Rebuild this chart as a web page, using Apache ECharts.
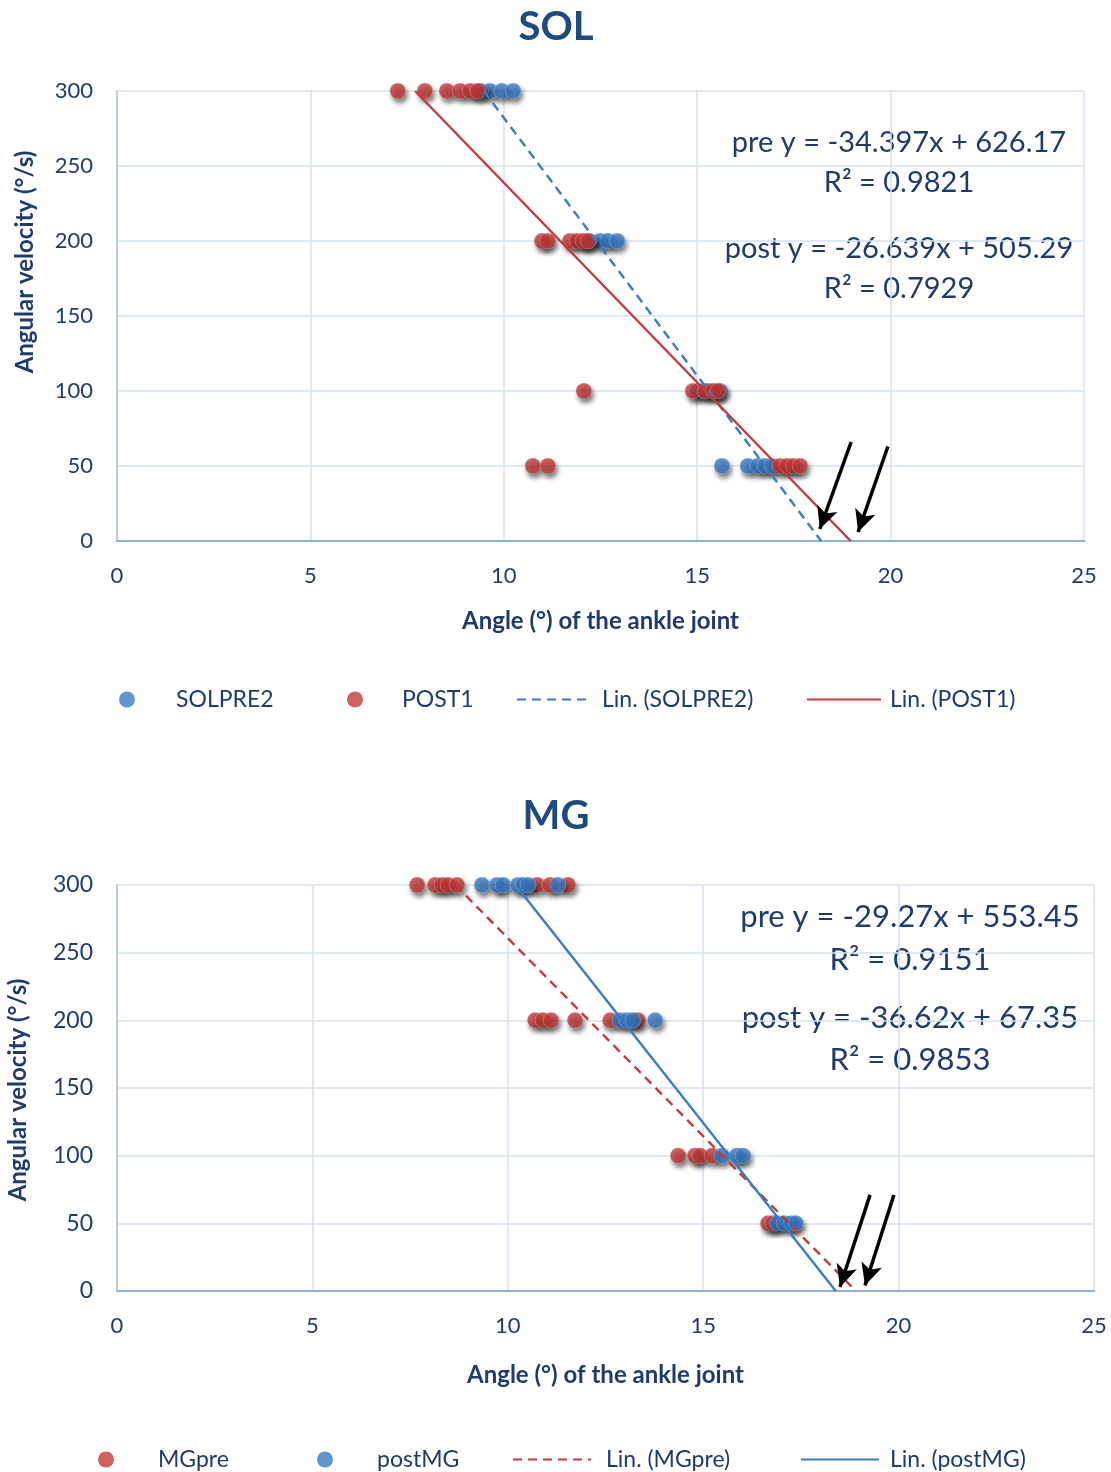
<!DOCTYPE html>
<html style="height: 100%">
<head>
  <meta charset="utf-8">
  <title>SOL / MG angular velocity vs ankle angle</title>
</head>
<body style="height: 100%; margin: 0; background: #fff">
<div id="container" style="width: 1111px; height: 1472px"></div>
<script src="https://cdn.jsdelivr.net/npm/echarts@6/dist/echarts.min.js"></script>
<script>
  // SOL: angle (deg), per velocity level
  let solPre = [
    [9.64, 300], [9.95, 300], [10.24, 300], [9.4, 300],
    [12.49, 200], [12.69, 200], [12.93, 200], [12.2, 200],
    [15.02, 100], [15.59, 100], [15.3, 100],
    [15.64, 50], [16.31, 50], [16.57, 50], [16.75, 50], [16.93, 50]
  ]
  let solPost = [
    [7.26, 300], [7.96, 300], [8.53, 300], [8.87, 300], [9.13, 300], [9.33, 300],
    [10.99, 200], [11.14, 200], [11.71, 200], [11.89, 200], [12.05, 200], [12.18, 200],
    [12.07, 100], [14.89, 100], [15.2, 100], [15.41, 100], [15.54, 100],
    [10.75, 50], [11.14, 50], [17.14, 50], [17.32, 50], [17.48, 50], [17.66, 50]
  ]
  // MG
  let mgPre = [
    [7.68, 300], [8.14, 300], [8.32, 300], [8.47, 300], [8.70, 300],
    [10.75, 300], [11.08, 300], [11.54, 300],
    [10.70, 200], [10.90, 200], [11.11, 200], [11.72, 200], [12.62, 200], [13.33, 200],
    [14.36, 100], [14.79, 100], [14.92, 100], [15.23, 100],
    [16.66, 50], [16.79, 50]
  ]
  let mgPost = [
    [9.34, 300], [9.72, 300], [9.88, 300], [10.26, 300], [10.39, 300], [10.52, 300], [11.28, 300],
    [12.87, 200], [13.05, 200], [13.20, 200], [13.77, 200],
    [15.48, 100], [15.86, 100], [16.02, 100],
    [16.89, 50], [17.07, 50], [17.25, 50], [17.37, 50]
  ]

  // trendline coefficients [slope, intercept]
  let solPreFit = [-34.397, 626.17]
  let solPostFit = [-26.639, 505.29]
  let mgPreFit = [-29.27, 553.45]
  let mgPostFit = [-36.62, 673.5]

  let solEquations = ['pre y = -34.397x + 626.17', 'R² = 0.9821', 'post y = -26.639x + 505.29', 'R² = 0.7929']
  let mgEquations = ['pre y = -29.27x + 553.45', 'R² = 0.9151', 'post y = -36.62x + 67.35', 'R² = 0.9853']

  // arrow annotations [x1, y1, x2, y2] in data units
  let solArrows = [[18.98, 66, 18.17, 8], [19.93, 63, 19.16, 6]]
  let mgArrows = [[19.27, 71, 18.5, 3], [19.88, 71, 19.14, 4]]

  let xTicks = [0, 25, 5]
  let yTicks = [0, 300, 50]

  const RED = '#C4393A'
  const BLUE = '#3A7AC6'
  const TXT = '#1F3B6E'
  const FONT = 'Lato, "Open Sans", sans-serif'

  // endpoints of a fit line clipped to 0..300
  function fitLine(f) {
    let [m, b] = f
    return [[(yTicks[1] - b) / m, yTicks[1]], [(0 - b) / m, 0]]
  }

  function arrows(list) {
    return {
      silent: true,
      symbol: ['none', 'arrow'],
      symbolSize: [16, 22],
      label: { show: false },
      lineStyle: { color: '#000', width: 3.5, type: 'solid' },
      itemStyle: { color: '#000' },
      emphasis: { disabled: true },
      data: list.map(a => [{ coord: [a[0], a[1]] }, { coord: [a[2], a[3]] }])
    }
  }

  function scatter(name, data, color, idx) {
    return {
      name: name,
      type: 'scatter',
      xAxisIndex: idx, yAxisIndex: idx,
      data: data,
      symbolSize: 16,
      itemStyle: {
        color: color,
        borderColor: 'rgba(255,255,255,0.3)',
        borderWidth: 1,
        shadowColor: 'rgba(0,0,0,0.65)',
        shadowBlur: 5,
        shadowOffsetX: 2,
        shadowOffsetY: 4
      },
      z: 3
    }
  }

  function trend(name, fit, color, type, idx, arr) {
    return {
      name: name,
      type: 'line',
      xAxisIndex: idx, yAxisIndex: idx,
      data: fitLine(fit),
      symbol: 'none',
      lineStyle: { color: color, width: 2.4, type: type },
      itemStyle: { color: color },
      markLine: arrows(arr),
      z: 4
    }
  }

  function xAxis(idx) {
    return {
      gridIndex: idx, type: 'value', min: xTicks[0], max: xTicks[1], interval: xTicks[2],
      name: 'Angle (°) of the ankle joint', nameLocation: 'middle', nameGap: idx ? 72 : 68,
      nameTextStyle: { color: TXT, fontSize: 24, fontWeight: 'bold', fontFamily: FONT },
      axisLine: { lineStyle: { color: '#8DB0DD', width: 2 } },
      axisTick: { show: false },
      axisLabel: { color: TXT, fontSize: 22, margin: 24, fontFamily: FONT },
      splitLine: { show: true, lineStyle: { color: '#D5E2F2', width: 1.5 } }
    }
  }

  function yAxis(idx) {
    return {
      gridIndex: idx, type: 'value', min: yTicks[0], max: yTicks[1], interval: yTicks[2],
      axisLine: { show: true, lineStyle: { color: '#A9C3E6', width: 1.5 } },
      axisTick: { show: false },
      axisLabel: { color: TXT, fontSize: idx ? 23 : 22, margin: 24, fontFamily: FONT },
      splitLine: { show: true, lineStyle: { color: '#D5E2F2', width: 1.5 } }
    }
  }

  function legend(name, left, top, w, pad, isLine) {
    return {
      data: [name], left: left, top: top, padding: 0,
      itemWidth: w, itemHeight: isLine ? 14 : 16,
      itemStyle: isLine ? { opacity: 0 } : { shadowBlur: 0, shadowColor: 'transparent', borderWidth: 0 },
      textStyle: { color: TXT, fontSize: 23, fontFamily: FONT, padding: [0, 0, 0, pad] },
      selectedMode: false
    }
  }

  function eqText(lines, cx, ys, size) {
    return lines.map((t, i) => ({
      type: 'text', x: cx, y: ys[i],
      style: { text: t, fill: TXT, font: size + 'px ' + FONT, textAlign: 'center', textVerticalAlign: 'middle' }
    }))
  }

  let dom = document.getElementById('container')
  let myChart = echarts.init(dom)

  let option = {
    animation: false,
    title: [
      { text: 'SOL', left: 551, top: 2, textAlign: 'center',
        textStyle: { color: '#1F4A7E', fontSize: 40, fontWeight: 'bold', fontFamily: FONT } },
      { text: 'MG', left: 551, top: 791, textAlign: 'center',
        textStyle: { color: '#1F4A7E', fontSize: 40, fontWeight: 'bold', fontFamily: FONT } }
    ],
    grid: [
      { left: 117, top: 91, width: 967, height: 450 },
      { left: 117, top: 885, width: 977, height: 406 }
    ],
    xAxis: [xAxis(0), xAxis(1)],
    yAxis: [yAxis(0), yAxis(1)],
    legend: [
      legend('SOLPRE2', 119, 688, 16, 36, false),
      legend('POST1', 347, 688, 16, 34, false),
      legend('Lin. (SOLPRE2)', 516, 688, 74, 6, true),
      legend('Lin. (POST1)', 806, 688, 74, 4, true),
      legend('MGpre', 98, 1448, 16, 39, false),
      legend('postMG', 317, 1448, 16, 39, false),
      legend('Lin. (MGpre)', 512, 1448, 78, 10, true),
      legend('Lin. (postMG)', 800, 1448, 78, 6, true)
    ],
    graphic: [
      { type: 'text', x: 25, y: 262, rotation: Math.PI / 2,
        style: { text: 'Angular velocity (°/s)', fill: TXT, font: 'bold 24px ' + FONT,
          textAlign: 'center', textVerticalAlign: 'middle' } },
      { type: 'text', x: 18, y: 1090, rotation: Math.PI / 2,
        style: { text: 'Angular velocity (°/s)', fill: TXT, font: 'bold 24px ' + FONT,
          textAlign: 'center', textVerticalAlign: 'middle' } }
    ].concat(eqText(solEquations, 899, [143, 183, 249, 289], 29))
     .concat(eqText(mgEquations, 910, [917, 960, 1018, 1060], 31)),
    series: [
      scatter('SOLPRE2', solPre, BLUE, 0),
      scatter('POST1', solPost, RED, 0),
      trend('Lin. (SOLPRE2)', solPreFit, BLUE, [9, 6], 0, []),
      trend('Lin. (POST1)', solPostFit, RED, 'solid', 0, solArrows),
      scatter('MGpre', mgPre, RED, 1),
      scatter('postMG', mgPost, BLUE, 1),
      trend('Lin. (MGpre)', mgPreFit, RED, [9, 6], 1, []),
      trend('Lin. (postMG)', mgPostFit, BLUE, 'solid', 1, mgArrows)
    ]
  }

  myChart.setOption(option, true)
</script>
</body>
</html>
